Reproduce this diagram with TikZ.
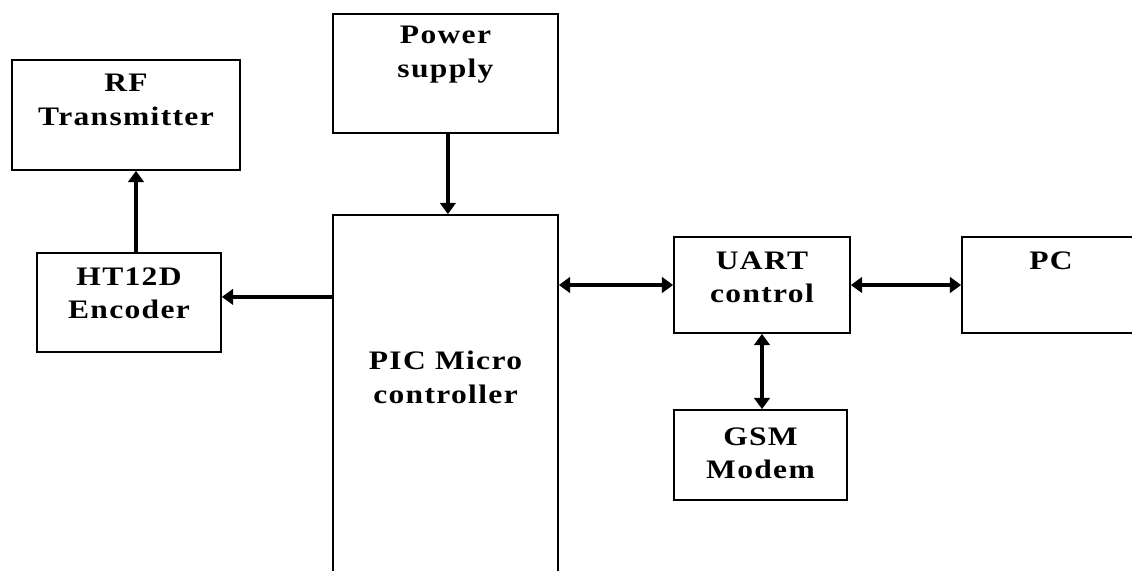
\documentclass[tikz,border=0pt]{standalone}
\usepackage{fontspec}
\newfontfamily\blkfont{Liberation Serif}[LetterSpace=5,FakeStretch=1.18]
\usetikzlibrary{arrows.meta,positioning,calc}
\tikzset{
  blk/.style ={draw=black,line width=1.2pt,inner sep=0pt},
  txt/.style ={font=\blkfont\bfseries\fontsize{19}{24}\selectfont,
               align=center,anchor=north,inner sep=0pt},
  ar/.style  ={-{Triangle[length=8pt,width=11pt]},line width=2.6pt},
  dar/.style ={{Triangle[length=8pt,width=11pt]}-{Triangle[length=8pt,width=11pt]},
               line width=2.6pt},
}
\begin{document}
\begin{tikzpicture}[x=0.25mm,y=-0.25mm]
\useasboundingbox (0,0) rectangle (1132,570);
\clip (0,0) rectangle (1132,570);

% left column
\node[blk,minimum width=57mm,minimum height=27.5mm,
  label={[txt,yshift=-3.75mm]north:RF\\Transmitter}] (rf) at (126,115) {};
\node[blk,minimum width=46mm,minimum height=24.75mm,
  label={[txt,yshift=-3.75mm]north:HT12D\\Encoder}] (ht) at (129,302.5) {};

% controller and supply
\node[blk,minimum width=56.25mm,minimum height=29.75mm,
  label={[txt,yshift=-3.25mm]north:Power\\supply}] (ps) at (445.5,73.5) {};
\node[blk,minimum width=56.25mm,minimum height=101.25mm,
  label={[txt,yshift=-34.25mm]north:PIC Micro\\controller}] (pic) at (445.5,417.5) {};

% serial side
\node[blk,minimum width=44mm,minimum height=24mm,
  label={[txt,yshift=-3.75mm]north:UART\\control}] (uart) at (762,285) {};
\node[blk,minimum width=44.5mm,minimum height=24mm,
  label={[txt,yshift=-3.75mm]north:PC}] (pc) at (1051,285) {};
\node[blk,minimum width=43.25mm,minimum height=22.5mm,
  label={[txt,yshift=-4.5mm]north:GSM\\Modem}] (gsm) at (760.5,455) {};

\draw[ar] ([xshift=1.75mm]ht.north) -- ([xshift=2.5mm]rf.south);
\draw[ar] ([xshift=0.6mm]ps.south) -- ([xshift=0.6mm]pic.north);
\draw[ar] ([yshift=1.4mm]ht.east -| pic.west) -- ([yshift=1.4mm]ht.east);
\draw[dar] (pic.east |- uart.west) -- (uart.west);
\draw[dar] (uart.east) -- (pc.west);
\draw[dar] (uart.south) -- (uart.south |- gsm.north);
\end{tikzpicture}
\end{document}
